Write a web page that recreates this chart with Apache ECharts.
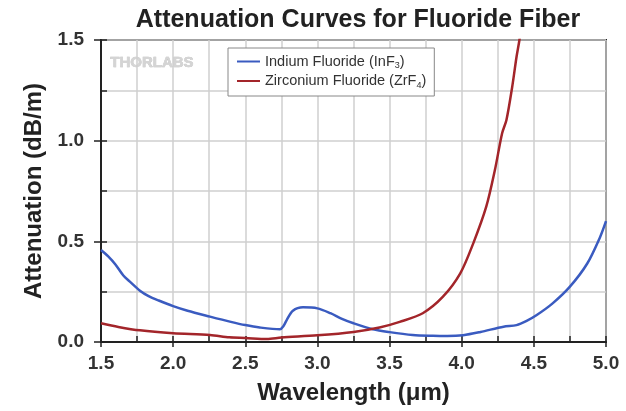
<!DOCTYPE html>
<html><head><meta charset="utf-8">
<script src="https://cdn.jsdelivr.net/npm/echarts@6/dist/echarts.min.js"></script>
<style>html,body{margin:0;padding:0;background:#fff}#c{width:626px;height:411px}</style>
</head><body><div id="c"></div>
<script>
const seriesNames = ['Indium Fluoride (InF3)', 'Zirconium Fluoride (ZrF4)'];
const inf3 = [[1.5,0.457],[1.55,0.425],[1.6,0.385],[1.655,0.330],[1.70,0.300],[1.77,0.255],[1.83,0.228],[1.9,0.206],[2.0,0.178],[2.1,0.155],[2.255,0.126],[2.4,0.10],[2.5,0.084],[2.6,0.072],[2.74,0.063],[2.765,0.08],[2.787,0.109],[2.83,0.155],[2.9,0.172],[3.0,0.167],[3.09,0.143],[3.17,0.115],[3.25,0.093],[3.385,0.063],[3.5,0.049],[3.66,0.035],[3.8,0.031],[3.9,0.030],[4.01,0.034],[4.13,0.050],[4.29,0.076],[4.38,0.084],[4.45,0.105],[4.52,0.134],[4.63,0.192],[4.75,0.275],[4.87,0.39],[4.96,0.523],[5.0,0.60]];
const zrf4 = [[1.5,0.093],[1.62,0.075],[1.77,0.058],[2.0,0.044],[2.255,0.035],[2.39,0.023],[2.5,0.020],[2.65,0.015],[2.75,0.022],[3.0,0.033],[3.25,0.050],[3.43,0.072],[3.57,0.10],[3.73,0.143],[3.87,0.225],[3.99,0.341],[4.08,0.49],[4.17,0.672],[4.23,0.854],[4.28,1.037],[4.31,1.103],[4.35,1.268],[4.38,1.417],[4.40,1.50],[4.41,1.56]];
const xTicks = ['1.5','2.0','2.5','3.0','3.5','4.0','4.5','5.0'];
const yTicks = ['0.0','0.5','1.0','1.5'];

const font = "'Liberation Sans', Arial, Helvetica, sans-serif";
const chart = echarts.init(document.getElementById('c'));
function lbl(list){return v=>{const s=v.toFixed(1);return (Math.abs(v*2-Math.round(v*2))<1e-6 && list.includes(s))?s:'';};}
chart.setOption({
  backgroundColor:'#fff',
  animation:false,
  title:{text:'Attenuation Curves for Fluoride Fiber',left:353,textAlign:'center',top:3,
    textStyle:{fontFamily:font,fontSize:25,fontWeight:'bold',color:'#222'}},
  grid:{left:101,right:20,top:40,bottom:69,show:true,borderColor:'#222',borderWidth:2,backgroundColor:'transparent'},
  graphic:[{type:'text',left:110,top:55,style:{text:'THORLABS',font:"bold 15px "+font,fill:'#d4d4d4',stroke:'#b8b8b8',lineWidth:0.5}}],
  legend:{orient:'vertical',left:228,top:48,padding:[6,8,6,9],itemGap:3,itemWidth:23,itemHeight:2,icon:'rect',
    borderColor:'#888',borderWidth:1,backgroundColor:'#fff',
    formatter:n=>n==='Indium Fluoride (InF3)'?'Indium Fluoride (InF{s|3})':'Zirconium Fluoride (ZrF{s|4})',
    textStyle:{fontFamily:font,fontSize:14.5,color:'#333',rich:{s:{fontFamily:font,fontSize:9,color:'#333',padding:[9,0,0,0]}}}},
  xAxis:[{type:'value',min:1.5,max:5.0,interval:0.25,position:'bottom',
    name:'Wavelength (μm)',nameLocation:'middle',nameGap:39,
    nameTextStyle:{fontFamily:font,fontSize:24,fontWeight:'bold',color:'#222'},
    axisLine:{lineStyle:{color:'#222',width:2}},
    axisTick:{inside:true,length:6,lineStyle:{color:'#222',width:1.5}},
    axisLabel:{formatter:lbl(xTicks),fontFamily:font,fontSize:19,fontWeight:'bold',color:'#333',margin:12},
    splitLine:{show:true,lineStyle:{color:'#cfcfcf',width:1.5}}},
   {type:'value',min:1.5,max:5.0,interval:0.5,position:'bottom',
    axisLine:{show:false},axisTick:{inside:false,length:5,lineStyle:{color:'#222',width:1.5}},
    axisLabel:{show:false},splitLine:{show:false}}],
  yAxis:[{type:'value',min:0,max:1.5,interval:0.25,
    name:'Attenuation (dB/m)',nameLocation:'middle',nameGap:54,
    nameTextStyle:{fontFamily:font,fontSize:24,fontWeight:'bold',color:'#222'},
    axisLine:{show:true,lineStyle:{color:'#222',width:2}},
    axisTick:{show:true,inside:true,length:6,lineStyle:{color:'#222',width:1.5}},
    axisLabel:{formatter:lbl(yTicks),fontFamily:font,fontSize:19,fontWeight:'bold',color:'#333',margin:17},
    splitLine:{show:true,lineStyle:{color:'#cfcfcf',width:1.5}}},
   {type:'value',min:0,max:1.5,interval:0.5,position:'left',
    axisLine:{show:false},axisTick:{show:true,inside:false,length:7,lineStyle:{color:'#222',width:1.5}},
    axisLabel:{show:false},splitLine:{show:false}}],
  series:[
    {name:seriesNames[0],type:'line',data:inf3,smooth:0.3,showSymbol:false,clip:true,
      lineStyle:{color:'#3a5bc0',width:2.5},itemStyle:{color:'#3a5bc0'}},
    {name:seriesNames[1],type:'line',data:zrf4,smooth:0.3,showSymbol:false,clip:true,
      lineStyle:{color:'#a3252a',width:2.5},itemStyle:{color:'#a3252a'}}
  ]
});
</script></body></html>
